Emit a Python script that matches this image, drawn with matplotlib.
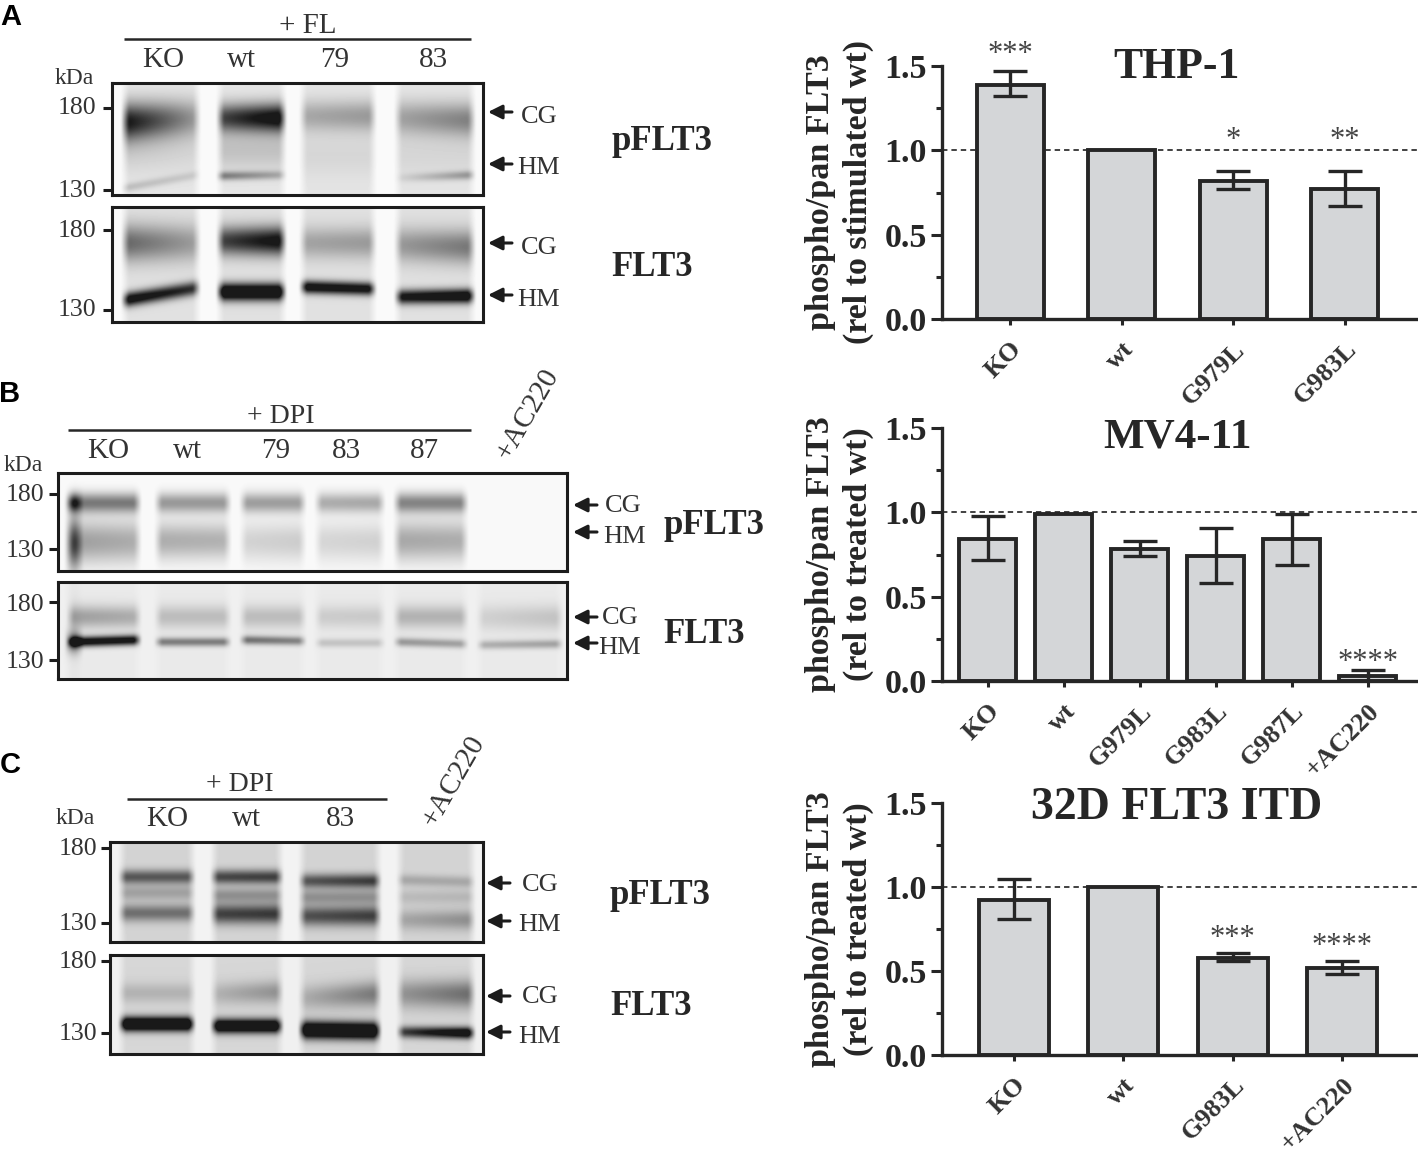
import numpy as np
import matplotlib
matplotlib.use("Agg")
import matplotlib.pyplot as plt

plt.rcParams['font.family'] = ['Liberation Serif', 'DejaVu Sans']

W, H = 1418, 1151
DARK = '#262626'
BAR = '#d4d6d8'

# ====================== bar chart data ======================
thp_cats = ['KO', 'wt', 'G979L', 'G983L']
thp_vals = [1.39, 1.0, 0.82, 0.77]
thp_low = [1.32, 1.0, 0.77, 0.67]
thp_high = [1.47, 1.0, 0.88, 0.88]
thp_sig = ['***', '', '*', '**']
thp_sig_y = [1.57, 0, 1.06, 1.06]

mv_cats = ['KO', 'wt', 'G979L', 'G983L', 'G987L', '+AC220']
mv_vals = [0.84, 0.99, 0.78, 0.74, 0.84, 0.03]
mv_low = [0.72, 0.99, 0.74, 0.58, 0.69, 0.0]
mv_high = [0.98, 0.99, 0.83, 0.91, 0.99, 0.065]
mv_sig = ['', '', '', '', '', '****']
mv_sig_y = [0, 0, 0, 0, 0, 0.11]

itd_cats = ['KO', 'wt', 'G983L', '+AC220']
itd_vals = [0.92, 1.0, 0.58, 0.52]
itd_low = [0.81, 1.0, 0.56, 0.48]
itd_high = [1.05, 1.0, 0.61, 0.56]
itd_sig = ['', '', '***', '****']
itd_sig_y = [0, 0, 0.695, 0.645]

# ====================== blot band tables (pixels of the figure) ======================
# lane: (left, right)    band: (lane, y_left, y_right, sigma, amp_left, amp_right)
a_lanes = [(125, 197), (220, 283), (303, 373), (398, 472)]
a_p_bands = [(0, 122, 118, 13, .82, .28), (1, 118, 118, 10, .62, .95), (2, 116, 116, 11, .24, .30),
             (3, 118, 120, 12, .26, .40), (0, 188, 175, 3, .16, .10), (1, 176, 175, 3, .42, .22),
             (3, 178, 175, 3, .05, .32), (0, 150, 150, 16, .10, .06), (1, 150, 150, 14, .14, .14),
             (2, 155, 155, 16, .06, .06), (3, 155, 155, 16, .06, .06)]
a_f_bands = [(0, 243, 243, 13, .48, .26), (1, 241, 241, 10, .62, .88), (2, 243, 243, 11, .24, .28),
             (3, 245, 247, 12, .28, .42), (0, 300, 288, 5, .95, .70), (1, 292, 292, 6, 1.15, 1.15),
             (2, 287, 289, 4.5, .95, .90), (3, 297, 296, 5, .85, 1.05)]
# last lane of panel B is the dark streak on the left of KO
b_lanes = [(70, 138), (158, 228), (243, 303), (318, 382), (397, 465), (480, 560), (68, 80)]
b_p_bands = [(0, 503, 503, 7, .50, .50), (1, 503, 503, 7, .38, .38), (2, 503, 503, 7, .36, .36),
             (3, 503, 503, 7, .30, .32), (4, 503, 503, 7, .46, .46), (6, 503, 503, 6, .40, .40),
             (0, 542, 542, 15, .36, .30), (1, 541, 541, 13, .30, .28), (2, 542, 542, 14, .15, .18),
             (3, 542, 542, 14, .14, .16), (4, 541, 541, 14, .32, .30), (6, 545, 545, 20, .40, .40)]
b_f_bands = [(0, 617, 617, 8, .30, .24), (1, 617, 617, 8, .18, .18), (2, 617, 617, 8, .18, .18),
             (3, 617, 617, 8, .12, .13), (4, 617, 617, 8, .22, .22), (5, 618, 618, 9, .10, .16),
             (0, 642, 640, 3.5, 1.0, .95), (1, 642, 642, 3, .45, .45), (2, 640, 641, 3, .50, .42),
             (3, 643, 643, 3, .16, .16), (4, 642, 644, 3, .34, .30), (5, 645, 644, 3, .24, .30),
             (6, 642, 642, 8, .45, .45)]
c_lanes = [(122, 192), (214, 280), (302, 378), (400, 472)]
c_p_bands = [(0, 877, 877, 5, .50, .50), (1, 877, 877, 5, .56, .60), (2, 881, 881, 5, .50, .62),
             (3, 880, 882, 4, .18, .18), (0, 893, 893, 5, .20, .20), (1, 895, 895, 5, .26, .26),
             (2, 897, 897, 5, .26, .26), (3, 897, 897, 5, .10, .12), (0, 913, 913, 6, .40, .40),
             (1, 914, 914, 7, .58, .62), (2, 916, 916, 7, .52, .60), (3, 920, 920, 7, .18, .28)]
c_f_bands = [(0, 993, 993, 7, .14, .14), (1, 994, 992, 8, .14, .28), (2, 998, 994, 9, .16, .38),
             (3, 994, 994, 10, .26, .42), (0, 1024, 1024, 5, 1.2, 1.2), (1, 1026, 1026, 5, 1.1, 1.1),
             (2, 1030, 1031, 6, 1.2, 1.2), (3, 1032, 1033, 4, .60, 1.05)]


def lane_mask(gx, l, r):
    edge = 8.0
    return np.clip((gx - l) / edge + 0.5, 0, 1) * np.clip((r - gx) / edge + 0.5, 0, 1)


def soften(img):
    # scanned blots are blurry, run a small kernel over rows and columns
    kernel = np.array([1, 4, 7, 4, 1]) / 17
    pad = np.pad(img, 2, mode='edge')
    pad = np.apply_along_axis(lambda m: np.convolve(m, kernel, mode='same'), 0, pad)
    pad = np.apply_along_axis(lambda m: np.convolve(m, kernel, mode='same'), 1, pad)
    return pad[2:-2, 2:-2]


def blot(fig, box, lanes, bands, bg, lane_bg):
    # draw one membrane as a gray image, bands are soft gaussians inside the lanes
    x0, y0, x1, y1 = box
    xs = np.arange(x0, x1) + 0.5
    ys = np.arange(y0, y1) + 0.5
    gx, gy = np.meshgrid(xs, ys)
    img = np.full(gx.shape, float(bg))
    for l, r in lanes:
        img += lane_bg * lane_mask(gx, l, r)
    for lane, yl, yr, sig, al, ar in bands:
        l, r = lanes[lane]
        t = np.clip((gx - l) / (r - l), 0, 1)
        yc = yl + (yr - yl) * t
        amp = al + (ar - al) * t
        img += amp * np.exp(-0.5 * ((gy - yc) / sig) ** 2) * lane_mask(gx, l, r)
    ax = fig.add_axes([x0 / W, 1 - y1 / H, (x1 - x0) / W, (y1 - y0) / H])
    ax.imshow(1 - np.clip(soften(img), 0, 0.9), cmap='gray', vmin=0, vmax=1, aspect='auto', interpolation='bilinear')
    ax.set_xticks([])
    ax.set_yticks([])
    for s in ax.spines.values():
        s.set_linewidth(2.2)
        s.set_color('#1c1c1c')


def bars(fig, left, right, y_top, y_zero, first, step, width, cats, vals, low, high, sig, sig_y):
    # y_top is the pixel of 1.5, y_zero the pixel of 0.0
    ax = fig.add_axes([left / W, 1 - y_zero / H, (right - left) / W, (y_zero - y_top) / H])
    ax.patch.set_alpha(0)
    pos = np.arange(len(cats))
    ax.axhline(1.0, color='#333333', lw=1.3, ls=(0, (3, 2.2)), zorder=1)
    ax.bar(pos, vals, width=width / step, color=BAR, edgecolor=DARK, linewidth=2.8, zorder=2)
    v = np.array(vals)
    yerr = [v - np.array(low), np.array(high) - v]
    keep = yerr[0] + yerr[1] > 0
    ax.errorbar(pos[keep], v[keep], yerr=[yerr[0][keep], yerr[1][keep]], fmt='none', ecolor=DARK,
                elinewidth=2.4, capsize=12, capthick=2.4, zorder=3)
    ax.set_xlim((left - first) / step, (right - first) / step)
    ax.set_ylim(0, 1.5)
    ax.set_yticks([0, 0.5, 1.0, 1.5])
    ax.set_yticks([0.25, 0.75, 1.25], minor=True)
    ax.set_yticklabels(['0.0', '0.5', '1.0', '1.5'], fontsize=24.5, fontweight='bold', color=DARK)
    ax.set_xticks(pos)
    ax.set_xticklabels(cats, fontsize=19, fontweight='bold', color='#333333', rotation=45,
                       ha='right', rotation_mode='anchor')
    ax.tick_params(axis='y', which='major', length=8, width=2.2, pad=3, color=DARK)
    ax.tick_params(axis='y', which='minor', length=4.5, width=2.2, color=DARK)
    ax.tick_params(axis='x', length=4.5, width=2.2, pad=9, color=DARK)
    for s in ['top', 'right']:
        ax.spines[s].set_visible(False)
    for s in ['left', 'bottom']:
        ax.spines[s].set_linewidth(2.4)
        ax.spines[s].set_color(DARK)
    for i, s in enumerate(sig):
        if s:
            ax.text(i, sig_y[i], s, fontsize=22, color='#444444', ha='center', va='center', clip_on=False)
    return ax


fig = plt.figure(figsize=(W / 100, H / 100), dpi=100)
fig.patch.set_facecolor('white')

# ====================== western blots ======================
blot(fig, (112, 83, 483, 195), a_lanes, a_p_bands, 0.02, 0.08)
blot(fig, (112, 207, 483, 322), a_lanes, a_f_bands, 0.02, 0.10)
blot(fig, (58, 473, 567, 571), b_lanes, b_p_bands, 0.02, 0.0)
blot(fig, (58, 582, 567, 679), b_lanes, b_f_bands, 0.06, 0.02)
blot(fig, (110, 842, 483, 942), c_lanes, c_p_bands, 0.05, 0.12)
blot(fig, (110, 955, 483, 1054), c_lanes, c_f_bands, 0.06, 0.10)

# ====================== bar charts ======================
bars(fig, 942, 1418, 66, 319, 1010, 111.5, 67, thp_cats, thp_vals, thp_low, thp_high, thp_sig, thp_sig_y)
bars(fig, 942, 1418, 428, 681, 987.6, 76, 57, mv_cats, mv_vals, mv_low, mv_high, mv_sig, mv_sig_y)
bars(fig, 942, 1418, 803, 1055, 1013.7, 109.5, 70, itd_cats, itd_vals, itd_low, itd_high, itd_sig, itd_sig_y)

# ====================== overlay for the labels, in image pixels ======================
ov = fig.add_axes([0, 0, 1, 1], facecolor='none')
ov.set_xlim(0, W)
ov.set_ylim(H, 0)
ov.axis('off')


def label(x, y, s, size=21, weight='normal', color='#333333', rot=0, **kw):
    ov.text(x, y, s, fontsize=size, fontweight=weight, color=color, rotation=rot,
            ha='center', va='center', **kw)


def arrow(x, y):
    ov.annotate('', xy=(x, y), xytext=(x + 24, y),
                arrowprops=dict(arrowstyle='-|>,head_width=0.3,head_length=0.6', color='#1c1c1c', lw=2.2,
                                mutation_scale=14, shrinkA=0, shrinkB=0))


def ticks(x, ys):
    ov.hlines(ys, x - 9, x, color='#1c1c1c', lw=2.2)


# panel letters
for x, y, s in [(11, 17, 'A'), (10, 394, 'B'), (10, 765, 'C')]:
    ov.text(x, y, s, fontsize=21, fontweight='bold', family='Liberation Sans', color='black',
            ha='center', va='center')

# panel A left side
label(308, 26, '+ FL')
ov.hlines(39, 124, 471, color=DARK, lw=1.8)
for x, s in [(163, 'KO'), (241, 'wt'), (335, '79'), (433, '83')]:
    label(x, 60, s)
label(74, 78, 'kDa', 17)
ticks(112, [108, 190, 230, 310])
for y, s in [(108, '180'), (191, '130'), (231, '180'), (310, '130')]:
    label(77, y, s, 18.5)
for y1, y2, s in [(112, 117, 'CG'), (164, 168, 'HM'), (243, 248, 'CG'), (295, 300, 'HM')]:
    arrow(488, y1)
    label(539, y2, s, 19)
label(662, 141, 'pFLT3', 25, 'bold', DARK)
label(652, 267, 'FLT3', 25, 'bold', DARK)

# panel B left side
label(281, 416, '+ DPI', 20)
ov.hlines(430, 68, 471, color=DARK, lw=1.8)
for x, s in [(108, 'KO'), (187, 'wt'), (276, '79'), (346, '83'), (424, '87')]:
    label(x, 451, s)
label(528, 414, '+AC220', 21, rot=60)
label(23, 465, 'kDa', 17)
ticks(58, [494, 549, 602, 660])
for y, s in [(495, '180'), (551, '130'), (605, '180'), (662, '130')]:
    label(25, y, s, 18.5)
for y1, y2, x2, s in [(505, 506, 623, 'CG'), (532, 537, 625, 'HM'), (617, 618, 620, 'CG'), (643, 648, 620, 'HM')]:
    arrow(573, y1)
    label(x2, y2, s, 19)
label(714, 525, 'pFLT3', 25, 'bold', DARK)
label(704, 634, 'FLT3', 25, 'bold', DARK)

# panel C left side
label(240, 784, '+ DPI', 20)
ov.hlines(799, 127, 387, color=DARK, lw=1.8)
for x, s in [(167, 'KO'), (246, 'wt'), (340, '83')]:
    label(x, 819, s)
label(454, 781, '+AC220', 21, rot=60)
label(75, 818, 'kDa', 17)
ticks(110, [848, 923, 961, 1033])
for y, s in [(849, '180'), (924, '130'), (962, '180'), (1034, '130')]:
    label(78, y, s, 18.5)
for y1, y2, s in [(883, 885, 'CG'), (921, 925, 'HM'), (996, 997, 'CG'), (1032, 1037, 'HM')]:
    arrow(486, y1)
    label(540, y2, s, 19)
label(660, 895, 'pFLT3', 25, 'bold', DARK)
label(651, 1006, 'FLT3', 25, 'bold', DARK)

# chart titles and y labels
for y, s, size in [(67, 'THP-1', 31.5), (437, 'MV4-11', 31), (808, '32D FLT3 ITD', 33)]:
    label(1177, y, s, size, 'bold', DARK)
for yc, second in [(192, '(rel to stimulated wt)'), (554, '(rel to treated wt)'), (929, '(rel to treated wt)')]:
    label(821, yc, 'phospho/pan FLT3', 24.5, 'bold', DARK, rot=90)
    label(858, yc, second, 24.5, 'bold', DARK, rot=90)

fig.savefig('out.png', dpi=100)
